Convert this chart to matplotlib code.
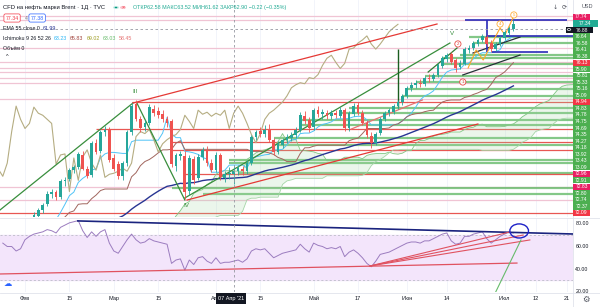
import numpy as np
import pandas as pd
import matplotlib
matplotlib.use("Agg")
import matplotlib.pyplot as plt
import matplotlib.transforms as mtransforms
from matplotlib.patches import Rectangle, Ellipse, Circle

plt.rcParams["font.family"] = ["Liberation Sans", "DejaVu Sans"]

# hidden history before the visible window (Dec 14 - Jan 22), only for indicators
hist_close = [50.0, 50.5, 50.8, 51.2, 52.0, 50.6, 49.8, 50.9, 51.0, 51.0,
              50.6, 50.8, 51.0, 51.5, 51.3, 50.8, 53.3, 54.0, 54.2, 55.6,
              55.4, 56.3, 55.8, 56.1, 54.8, 54.5, 55.6, 55.8, 55.8, 55.1]

# daily candles Jan 25 - Jul 5 2021
opens = [55.6, 55.9, 55.9, 56.0, 55.5, 55.9, 57.4, 58.2, 58.5, 59.1,
         59.7, 60.7, 60.9, 60.4, 61.9, 62.1, 63.0, 63.3, 64.5, 63.1,
         62.5, 65.7, 64.9, 66.8, 67.0, 64.2, 63.6, 62.4, 63.7, 66.8,
         69.5, 68.0, 67.2, 67.6, 69.0, 68.8, 68.5, 68.0, 67.8, 63.4,
         64.4, 64.4, 61.0, 64.1, 62.2, 64.3, 65.0, 63.7, 63.0, 64.5,
         62.2, 62.6, 62.58, 62.9, 63.1, 62.9, 63.7, 66.3, 66.9, 66.6,
         67.0, 66.0, 64.8, 65.5, 66.0, 66.2, 66.5, 67.0, 68.3, 67.9,
         67.2, 68.9, 68.5, 68.6, 68.3, 68.6, 68.3, 68.9, 67.1, 68.5,
         69.4, 68.6, 67.6, 66.4, 65.7, 66.7, 68.0, 68.6, 68.7, 69.3,
         69.7, 70.3, 71.1, 71.4, 71.6, 71.5, 72.1, 72.0, 72.4, 73.2,
         73.9, 74.4, 73.8, 73.1, 73.4, 74.8, 75.0, 75.4, 75.8, 76.1,
         75.5, 74.9, 75.4, 76.0, 76.5, 76.9]
highs = [56.2, 56.3, 56.4, 56.3, 56.1, 57.6, 58.4, 58.9, 59.3, 59.8,
         61.0, 61.2, 61.1, 62.1, 62.3, 63.2, 63.5, 64.8, 64.9, 63.4,
         65.9, 66.1, 67.0, 67.3, 67.2, 64.6, 63.9, 63.9, 67.0, 69.6,
         69.9, 68.3, 67.9, 69.5, 69.4, 69.2, 68.9, 68.3, 68.0, 64.7,
         64.9, 64.9, 64.5, 64.4, 64.6, 65.3, 65.4, 64.1, 64.8, 64.7,
         62.9, 63.3, 63.52, 63.5, 63.4, 64.0, 66.5, 67.0, 67.2, 67.4,
         67.5, 66.2, 65.9, 66.2, 66.6, 66.8, 67.2, 68.7, 68.8, 68.2,
         69.1, 69.3, 69.0, 68.9, 68.9, 68.9, 69.2, 69.1, 68.8, 69.6,
         69.7, 68.9, 67.9, 66.8, 66.8, 68.2, 68.8, 69.1, 69.5, 69.9,
         70.5, 71.3, 71.7, 71.9, 72.0, 72.3, 72.5, 72.6, 73.5, 74.2,
         74.5, 74.6, 74.0, 73.8, 75.1, 75.3, 75.7, 76.0, 76.4, 76.3,
         75.8, 75.6, 76.2, 76.8, 77.2, 77.74]
lows = [55.3, 55.5, 55.4, 55.0, 55.1, 55.6, 57.0, 57.8, 58.2, 58.8,
        59.5, 60.3, 60.1, 60.2, 61.4, 61.9, 62.7, 63.1, 63.0, 62.2,
        62.3, 64.6, 64.7, 66.4, 63.8, 62.9, 62.1, 62.0, 63.4, 66.5,
        67.8, 66.8, 66.9, 67.4, 68.3, 68.1, 67.7, 67.2, 63.3, 62.9,
        64.0, 60.2, 60.6, 61.6, 62.0, 64.0, 63.4, 62.8, 62.8, 62.0,
        61.8, 62.1, 61.62, 62.5, 62.5, 62.6, 63.5, 66.0, 66.3, 66.3,
        65.8, 64.5, 64.6, 65.2, 65.7, 65.9, 66.2, 66.8, 67.5, 66.8,
        67.0, 68.2, 68.0, 68.0, 68.0, 68.1, 68.1, 66.9, 66.9, 68.3,
        68.4, 67.4, 66.2, 65.2, 65.5, 66.5, 67.8, 68.3, 68.5, 69.0,
        69.4, 70.1, 70.8, 71.1, 71.2, 71.3, 71.7, 71.8, 72.2, 73.0,
        73.6, 73.4, 72.7, 72.9, 73.3, 74.5, 74.8, 75.2, 75.6, 75.2,
        74.6, 74.7, 75.2, 75.8, 76.3, 76.7]
closes = [55.9, 55.9, 56.0, 55.5, 55.9, 57.4, 58.2, 58.6, 59.1, 59.6,
          60.7, 60.9, 60.4, 61.9, 62.0, 63.0, 63.3, 64.6, 63.1, 62.4,
          65.7, 64.8, 66.8, 67.0, 64.0, 63.1, 62.4, 63.7, 66.8, 69.3,
          68.0, 67.1, 67.6, 69.2, 68.6, 68.4, 68.0, 67.6, 63.6, 64.5,
          64.6, 60.9, 64.2, 62.0, 64.3, 65.0, 63.7, 63.0, 64.5, 62.3,
          62.6, 62.7, 62.90, 63.2, 62.9, 63.7, 66.3, 66.8, 66.6, 67.0,
          66.0, 64.8, 65.6, 66.0, 66.3, 66.5, 67.0, 68.4, 67.8, 67.1,
          68.9, 68.5, 68.7, 68.3, 68.6, 68.4, 68.9, 67.1, 68.6, 69.3,
          68.6, 67.6, 66.5, 65.7, 66.6, 68.0, 68.6, 68.9, 69.3, 69.7,
          70.3, 71.1, 71.4, 71.6, 71.5, 72.1, 72.0, 72.4, 73.3, 74.0,
          74.3, 73.6, 73.0, 73.5, 74.9, 75.0, 75.5, 75.8, 76.2, 75.4,
          74.9, 75.4, 76.0, 76.6, 77.0, 77.34]

rsi_vals = [63, 60, 60, 56, 58, 66, 69, 71, 72, 73, 75, 74, 72, 77, 79, 81,
            82, 83, 74, 68, 73, 69, 73, 75, 63, 56, 54, 60, 66, 71, 66, 63,
            64, 67, 65, 64, 63, 62, 45, 48, 49, 39, 48, 44, 50, 51, 47, 45,
            50, 45, 46, 46, 47, 48, 46, 49, 56, 58, 57, 58, 54, 50, 52, 54,
            55, 56, 57, 62, 58, 55, 63, 61, 60, 58, 59, 58, 60, 51, 55, 57,
            54, 50, 45, 42, 47, 53, 54, 55, 57, 59, 61, 63, 64, 64, 63, 65,
            65, 67, 69, 71, 72, 65, 62, 63, 69, 69, 71, 72, 73, 67, 63, 66,
            69, 71, 73, 72]

# horizontal levels: price, colour, first bar (counted from Feb 1)
pink_levels = [78.16, 77.76, 75.01, 73.64, 73.05, 72.65, 72.06, 71.57, 70.0, 61.35, 60.07]
red_levels = [69.70, 58.79, 62.63, 67.05, 65.77, 64.99]
red_starts = [24, -6, 36, 16, 33, 33]
green_levels = [76.09, 75.50, 74.32, 74.03, 73.44, 72.26, 71.67, 70.98, 70.29, 69.11,
                68.62, 67.93, 67.44, 66.17, 65.48, 64.00, 63.71, 62.72, 61.25, 60.66]
green_starts = [100, 101, 98, 94, 94, 90, 88, 86, 85, 73,
                71, 62, 62, 56, 57, 46, 46, 48, 33, 40]

# price scale labels (stacked, top to bottom)
scale_labels = ["77.74", "77.34", "76.88", "76.64", "76.58", "76.41", "76.38", "76.13",
                "75.90", "75.81", "75.33", "75.16", "75.09", "74.94", "74.83", "74.78",
                "74.75", "74.69", "74.35", "74.27", "74.18", "73.92", "73.43", "73.09",
                "72.96", "72.91", "72.83", "72.80", "72.74", "72.37", "72.09"]
scale_colors = ["#e91e63", "#22ab94", "#131722"] + ["#4caf50"] * 4 + ["#f23645"] + \
               ["#4caf50"] * 5 + ["#f23645"] + ["#4caf50"] * 10 + ["#e91e63", "#4caf50",
               "#e91e63", "#4caf50", "#4caf50", "#4caf50", "#f23645"]

tick_dates = ["2021-02-01", "2021-02-15", "2021-03-01", "2021-03-15", "2021-04-01",
              "2021-04-15", "2021-05-03", "2021-05-17", "2021-06-01", "2021-06-14",
              "2021-07-01", "2021-07-12", "2021-07-21"]
tick_labels = ["Фев", "15", "Мар", "15", "Апр", "15", "Май", "17", "Июн", "14",
               "Июл", "12", "21"]

W, H = 600, 307
UP, DN = "#26a69a", "#ef5350"

o = np.array(hist_close + opens)
h = np.array(hist_close + highs)
l = np.array(hist_close + lows)
c = np.array(hist_close + closes)
n = len(c)
idx = np.arange(n)
days = pd.bdate_range("2020-12-14", "2021-08-31")
feb1 = days.get_loc(pd.Timestamp("2021-02-01"))
vis = idx >= len(hist_close)

def bx(rel):
    return feb1 + np.asarray(rel, dtype=float)

fig = plt.figure(figsize=(W / 100, H / 100), dpi=100)
ax = fig.add_axes([0, 1 - 217 / H, 573 / W, 217 / H])
ar = fig.add_axes([0, 1 - 292 / H, 573 / W, 74 / H])
xlim = (feb1 - 25 / 4.44, feb1 + 548 / 4.44)
for a in (ax, ar):
    a.set_xlim(*xlim)
    for s in a.spines.values():
        s.set_visible(False)
ax.set_ylim(58.40, 79.73)
ar.set_ylim(19.6, 85.3)
ax.set_xticks([]); ax.set_yticks([])
ar.set_yticks([])

tick_pos = [days.get_loc(pd.Timestamp(d)) for d in tick_dates]
for a in (ax, ar):
    for tp in tick_pos:
        a.axvline(tp, color="#f0f3fa", lw=0.6, zorder=0)

# ---- horizontal levels
for p in pink_levels:
    ax.axhline(p, color="#f0c4d4", lw=0.9, zorder=1)
for p, s in zip(green_levels, green_starts):
    ax.hlines(p, bx(s), xlim[1], color="#66bb6a", lw=1.6, alpha=0.8, zorder=1)
for p, s in zip(red_levels, red_starts):
    ax.hlines(p, bx(s), xlim[1], color="#e53935", lw=0.9, alpha=0.85, zorder=1)

# ---- ichimoku 9 26 52 26
H_ = pd.Series(h); L_ = pd.Series(l); C_ = pd.Series(c)
conv = (H_.rolling(9, min_periods=1).max() + L_.rolling(9, min_periods=1).min()) / 2
base = (H_.rolling(26, min_periods=1).max() + L_.rolling(26, min_periods=1).min()) / 2
spanA = ((conv + base) / 2).values
spanB = ((H_.rolling(52, min_periods=1).max() + L_.rolling(52, min_periods=1).min()) / 2).values
xs = idx + 26
ax.fill_between(xs, spanA, spanB, where=spanA >= spanB, color="#a5d6a7", alpha=0.22, lw=0, zorder=1)
ax.fill_between(xs, spanA, spanB, where=spanA < spanB, color="#ef9a9a", alpha=0.22, lw=0, zorder=1)
ax.plot(xs, spanA, color="#81c784", lw=0.6, zorder=2)
ax.plot(xs, spanB, color="#a5d6a7", lw=0.6, zorder=2)
ax.plot(idx, conv, color="#4fc3f7", lw=0.7, zorder=2)
ax.plot(idx, base, color="#a1665e", lw=0.7, zorder=2)
ax.plot(idx - 26, c, color="#b5ad82", lw=0.8, zorder=2)

# ---- EMA 55
ema = C_.ewm(span=55, adjust=False).mean()
ax.plot(idx, ema, color="#283593", lw=1.0, zorder=3)

# ---- drawings
seg = [((-5.63, 59.09), (24.3, 69.6), "#388e3c"),
       ((25.2, 69.6), (36.0, 60.07), "#388e3c"),
       ((24.3, 69.6), (92.8, 77.37), "#e53935"),
       ((36.0, 60.27), (95.7, 75.5), "#388e3c"),
       ((36.5, 60.07), (102.0, 67.54), "#e53935"),
       ((73.5, 67.05), (89.5, 69.9), "#e57373"),
       ((98.6, 72.36), (111.5, 74.32), "#263238"),
       ((100.9, 74.52), (111.5, 76.09), "#263238"),
       ((90.8, 72.65), (97.3, 75.01), "#2e7d32")]
for (x0, y0), (x1, y1), col in seg:
    ax.plot(bx([x0, x1]), [y0, y1], color=col, lw=0.9, zorder=3)
ax.vlines(bx(84), 69.21, 74.92, color="#1b5e20", lw=1.0, zorder=3)
BL = "#2a2ab8"
ax.hlines(77.76, bx(99.1), bx(122), color=BL, lw=1.2, zorder=4)
ax.vlines(bx(104.1), 74.62, 77.76, color=BL, lw=1.2, zorder=4)
ax.hlines(76.19, bx(104.1), xlim[1], color=BL, lw=1.2, zorder=4)
ax.hlines(74.62, bx(105.2), bx(117.8), color=BL, lw=1.2, zorder=4)
ax.plot(bx([99.8, 101.6, 103.2, 107.0, 108.1, 110.1]),
        [73.05, 74.82, 73.83, 76.98, 76.29, 78.16], color="#ffa726", lw=0.8, zorder=4)

# ---- candles
x = idx[vis]
up = c[vis] >= o[vis]
cols = np.where(up, UP, DN)
ax.vlines(x, l[vis], h[vis], colors=cols, lw=0.6, zorder=5)
body = np.maximum(np.abs(c[vis] - o[vis]), 0.04)
ax.bar(x, body, bottom=np.minimum(o[vis], c[vis]), width=0.62, color=cols, lw=0, zorder=6)

# wave labels
ax.text(bx(24.7), 70.7, "III", color="#388e3c", fontsize=4.5, ha="center", va="center", zorder=7)
ax.text(bx(36.4), 59.5, "IV", color="#388e3c", fontsize=4.5, ha="center", va="center", zorder=7)
ax.text(bx(96.2), 76.4, "V", color="#388e3c", fontsize=4.5, ha="center", va="center", zorder=7)
for xx, yy, t, col in [(97.5, 75.41, "2", "#e53935"), (98.6, 71.67, "1", "#e53935"),
                       (107.0, 77.37, "4", "#ffa726"), (110.1, 78.26, "5", "#ffa726")]:
    ax.text(bx(xx), yy, t, color=col, fontsize=3.2, ha="center", va="center", zorder=8,
            bbox=dict(boxstyle="circle,pad=0.25", fc="white", ec=col, lw=0.6, alpha=0.9))

# crosshair
cross = days.get_loc(pd.Timestamp("2021-04-07"))
for a in (ax, ar):
    a.axvline(cross, color="#9598a1", lw=0.6, ls=(0, (3, 3)), zorder=9)
ax.axhline(76.88, color="#9598a1", lw=0.6, ls=(0, (3, 3)), zorder=9)

# ---- RSI pane
ar.axhspan(30, 70, color="#f3e5fb", zorder=0)
ar.axhline(70, color="#b2b5be", lw=0.5, ls=(0, (3, 3)), zorder=1)
ar.axhline(30, color="#b2b5be", lw=0.5, ls=(0, (3, 3)), zorder=1)
ar.plot(x, rsi_vals, color="#9b7cbf", lw=0.7, zorder=3)
ar.plot(bx([11.9, 123.4]), [82.7, 71.1], color="#1a237e", lw=1.2, zorder=4)
ar.plot(bx([-5.6, 110.8]), [35.6, 45.3], color="#e05260", lw=0.9, zorder=4)
for ex, ey in [(109.2, 72.9), (112.2, 70.2), (113.7, 65.8)]:
    ar.plot(bx([77.7, ex]), [42.7, ey], color="#e05260", lw=0.8, zorder=4)
ar.plot(bx([105.9, 111.7]), [18.7, 65.8], color="#66bb6a", lw=0.8, zorder=4)
ar.add_patch(Ellipse((bx(111.3), 73.8), 4.2, 12.5, fc="none", ec="#1e22c8", lw=1.0, zorder=5))
tr = mtransforms.blended_transform_factory(ar.transAxes, ar.transData)
for v in (80, 60, 40, 20):
    ar.text(1.004, v, f"{v:.2f}", transform=tr, fontsize=3.8, color="#131722",
            ha="left", va="center", clip_on=False)

ar.set_xticks(tick_pos)
ar.set_xticklabels(tick_labels)
ar.tick_params(axis="x", length=0, labelsize=4, pad=3, colors="#131722")

# pane separators
def fx(px_): return px_ / W
def fy(py): return 1 - py / H
fig.add_artist(plt.Line2D([0, 1], [fy(217.5), fy(217.5)], color="#e0e3eb", lw=0.6))
fig.add_artist(plt.Line2D([0, 1], [fy(292.5), fy(292.5)], color="#e0e3eb", lw=0.6))
fig.add_artist(plt.Line2D([fx(573), fx(573)], [0, 1], color="#e0e3eb", lw=0.6))

# ---- price scale labels
for k, (t, col) in enumerate(zip(scale_labels, scale_colors)):
    yc = 17 + k * 6.53
    x0, w = 573, 17
    if k == 1:
        w = 25
    if k == 2:
        x0, w = 566, 27
    fig.add_artist(Rectangle((fx(x0), fy(yc + 3.2)), w / W, 6.4 / H, transform=fig.transFigure,
                             fc=col, ec="none", zorder=10))
    fig.text(fx(x0 + (w + 4 if k == 2 else w) / 2), fy(yc), t, color="white", fontsize=3.6,
             ha="center", va="center", zorder=11)
fig.add_artist(Circle((fx(569), fy(29.5)), 1.8 / W, transform=fig.transFigure, fc="none",
                      ec="white", lw=0.5, zorder=12))

# ---- legend / header
renderer = fig.canvas.get_renderer()

def ftxt(x_, y_, s, col="#131722", fs=3.8, **kw):
    return fig.text(fx(x_), fy(y_), s, color=col, fontsize=fs, ha="left", va="center", **kw)

def row(x_, y_, parts, fs=3.8, gap=3):
    for s, col in parts:
        t = ftxt(x_, y_, s, col=col, fs=fs)
        x_ = t.get_window_extent(renderer).x1 + gap

ftxt(3, 7.5, "CFD на нефть марки Brent · 1Д · TVC", fs=4.2)
fig.add_artist(Circle((fx(116), fy(7.5)), 3 / W, transform=fig.transFigure, fc="#c8ece6", ec="none"))
fig.add_artist(Circle((fx(116), fy(7.5)), 1.4 / W, transform=fig.transFigure, fc="#089981", ec="none"))
fig.add_artist(Circle((fx(123), fy(7.5)), 3 / W, transform=fig.transFigure, fc="#fbc4cc", ec="none"))
ftxt(121.7, 7.6, "×", col="#f23645", fs=4)
ftxt(133, 7.5, "ОТКР62.58 МАКС63.52 МИН61.62 ЗАКР62.90 −0.22 (−0.35%)", col="#22ab94", fs=3.9)
ftxt(5.5, 18, "77.34", col="#f23645", fs=3.8,
     bbox=dict(boxstyle="round,pad=0.3", fc="white", ec="#f23645", lw=0.5))
ftxt(25, 18, "4", col="#787b86", fs=3.6)
ftxt(30.5, 18, "77.38", col="#2962ff", fs=3.8,
     bbox=dict(boxstyle="round,pad=0.3", fc="white", ec="#2962ff", lw=0.5))
row(3, 29, [("EMA 55 close 0", "#131722"), ("61.99", "#283593")])
row(3, 38.5, [("Ichimoku 9 26 52 26", "#131722"), ("63.23", "#29b6f6"), ("65.83", "#a1423c"),
              ("69.02", "#9e9d24"), ("63.03", "#66bb6a"), ("58.45", "#e57373")])
ftxt(3, 48, "Объём 0")
ftxt(6, 57, "^", col="#131722", fs=4)

ftxt(553, 7, "↓", col="#50535e", fs=4.5, family="DejaVu Sans")
ftxt(562, 7, "⟳", col="#50535e", fs=4.5, family="DejaVu Sans")
ftxt(582, 7, "USD", col="#50535e", fs=4)
ftxt(4, 284, "☁", col="#2962ff", fs=6, family="DejaVu Sans")
ftxt(582, 299, "⚙", col="#50535e", fs=6, family="DejaVu Sans")

# date tooltip
fig.add_artist(Rectangle((fx(216), fy(304)), 30 / W, 11 / H, transform=fig.transFigure,
                         fc="#131722", ec="none", zorder=12))
fig.text(fx(231), fy(298.5), "07 Апр '21", color="white", fontsize=4, ha="center",
         va="center", zorder=13)

fig.savefig("out.png", dpi=100)
